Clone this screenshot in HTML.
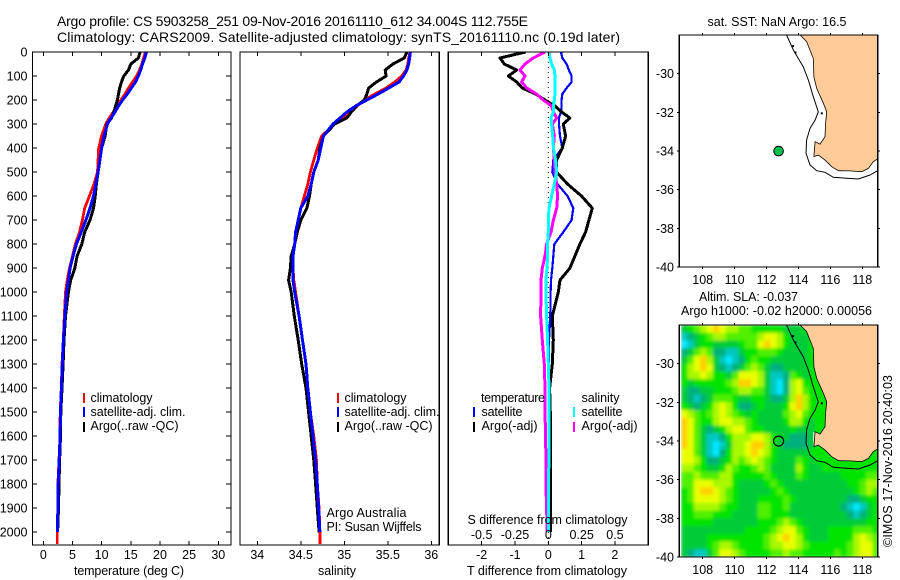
<!DOCTYPE html>
<html>
<head>
<meta charset="utf-8">
<title>Argo profile 5903258</title>
<style>
html,body{margin:0;padding:0;background:#fff;}
svg{display:block;font-family:"Liberation Sans",sans-serif;fill:#000;}
text{font-size:12.5px;fill:#000;}
.t{font-size:14px;}
</style>
</head>
<body>
<svg id="chart" width="900" height="580" viewBox="0 0 900 580" xmlns="http://www.w3.org/2000/svg">
  <defs>
    <clipPath id="clip-t"><rect x="33" y="52" width="198" height="493"/></clipPath>
    <clipPath id="clip-s"><rect x="240" y="52" width="199" height="493"/></clipPath>
    <clipPath id="clip-d"><rect x="448" y="52" width="200" height="493"/></clipPath>
    <clipPath id="clip-m1"><rect x="679" y="35" width="199" height="232"/></clipPath>
    <clipPath id="clip-m2"><rect x="679" y="325" width="199" height="232"/></clipPath>
    <filter id="soft" x="-5%" y="-5%" width="110%" height="110%"><feGaussianBlur stdDeviation="1.6"/></filter>
  </defs>

  <text class="t" x="57" y="26" textLength="471">Argo profile: CS 5903258_251 09-Nov-2016 20161110_612 34.004S 112.755E</text>
  <text class="t" x="57" y="42" textLength="563">Climatology: CARS2009. Satellite-adjusted climatology: synTS_20161110.nc (0.19d later)</text>

  <g id="g-heat" clip-path="url(#clip-m2)"></g>
  <g id="g-map1"></g>
  <g id="g-map2"></g>
  <g id="g-temp"></g>
  <g id="g-sal"></g>
  <g id="g-diff"></g>

  <text x="129" y="575" text-anchor="middle" textLength="110">temperature (deg C)</text>
  <text x="337" y="575" text-anchor="middle" textLength="38">salinity</text>
  <text x="547" y="575" text-anchor="middle" textLength="160">T difference from climatology</text>
  <text x="547.5" y="524" text-anchor="middle" textLength="160">S difference from climatology</text>

  <g>
    <rect x="83" y="393" width="2" height="10" fill="#ff0000"/>
    <rect x="83" y="407" width="2" height="10" fill="#0000ff"/>
    <rect x="83" y="422" width="2" height="10" fill="#000"/>
    <text x="90.5" y="402" textLength="62">climatology</text>
    <text x="90.5" y="416" textLength="95">satellite-adj. clim.</text>
    <text x="90.5" y="430" textLength="88">Argo(..raw -QC)</text>
  </g>
  <g>
    <rect x="337" y="393" width="2" height="10" fill="#ff0000"/>
    <rect x="337" y="407" width="2" height="10" fill="#0000ff"/>
    <rect x="337" y="422" width="2" height="10" fill="#000"/>
    <text x="344.5" y="402" textLength="62">climatology</text>
    <text x="344.5" y="416" textLength="95">satellite-adj. clim.</text>
    <text x="344.5" y="430" textLength="88">Argo(..raw -QC)</text>
    <text x="326.5" y="517" textLength="80">Argo Australia</text>
    <text x="326.5" y="531" textLength="95">PI: Susan Wijffels</text>
  </g>
  <g>
    <text x="481" y="402" textLength="64">temperature</text>
    <rect x="473" y="407" width="2" height="10" fill="#0000ff"/>
    <rect x="473" y="422" width="2" height="10" fill="#000"/>
    <text x="481.5" y="416" textLength="41">satellite</text>
    <text x="481.5" y="430" textLength="56">Argo(-adj)</text>
    <text x="581.5" y="402" textLength="38">salinity</text>
    <rect x="573" y="407" width="2" height="10" fill="#00ffff"/>
    <rect x="573" y="422" width="2" height="10" fill="#ff00ff"/>
    <text x="581.5" y="416" textLength="41">satellite</text>
    <text x="581.5" y="430" textLength="56">Argo(-adj)</text>
  </g>

  <text x="777" y="26" text-anchor="middle" textLength="139">sat. SST: NaN Argo: 16.5</text>
  <text x="748.5" y="301" text-anchor="middle" textLength="99">Altim. SLA: -0.037</text>
  <text x="776.5" y="315" text-anchor="middle" textLength="191">Argo h1000: -0.02 h2000: 0.00056</text>
  <text transform="translate(892,547) rotate(-90)" textLength="172">©IMOS 17-Nov-2016 20:40:03</text>
</svg>

<script>
// depth levels (m) shared by all profile series
const depthLevels = [0,25,50,75,100,125,150,175,200,225,250,275,300,350,400,450,500,550,600,650,700,750,800,850,900,950,1000,1100,1200,1300,1400,1500,1600,1700,1800,1900,2000,2050];

// temperature (deg C)
const tempClim = [17.5,17.2,16.9,16.5,16.0,15.3,14.6,14.0,13.3,12.6,12.0,11.3,10.7,10.0,9.5,9.4,9.3,8.7,7.9,7.1,6.7,6.2,5.5,5.0,4.5,4.1,3.8,3.6,3.43,3.2,3.09,2.9,2.86,2.7,2.5,2.5,2.4,2.4];
const tempSat = [17.7,17.4,17.0,16.7,16.3,15.8,15.1,14.4,13.6,12.9,12.3,11.6,11.0,10.4,10.0,9.7,9.4,9.0,8.6,8.0,7.3,6.5,5.7,5.1,4.6,4.3,4.0,3.7,3.45,3.25,3.1,2.95,2.88,2.72,2.55,2.5,2.4,null];
const tempArgo = [16.6,16.3,15.0,14.6,13.8,13.4,13.1,12.9,12.7,12.4,12.1,11.7,10.9,10.6,10.0,9.7,9.4,9.1,8.9,8.6,8.0,7.1,6.6,5.8,5.4,4.7,4.3,3.8,3.55,3.4,3.2,3.0,2.95,2.8,2.7,2.6,2.45,null];

// salinity
const salClim = [35.755,35.74,35.73,35.71,35.66,35.58,35.48,35.35,35.23,35.15,35.08,34.97,34.89,34.74,34.69,34.65,34.61,34.58,34.54,34.50,34.47,34.45,34.43,34.41,34.41,34.42,34.44,34.48,34.52,34.56,34.58,34.61,34.65,34.68,34.69,34.71,34.72,34.72];
const salSat = [35.76,35.75,35.74,35.72,35.68,35.63,35.51,35.39,35.26,35.13,35.03,34.95,34.87,34.76,34.73,34.70,34.65,34.62,34.58,34.50,34.47,34.44,34.43,34.41,34.41,34.41,34.43,34.48,34.52,34.56,34.58,34.61,34.64,34.67,34.69,34.705,34.72,null];
const salArgo = [35.72,35.69,35.56,35.47,35.48,35.37,35.28,35.26,35.23,35.14,35.08,35.03,34.89,34.76,34.72,34.70,34.65,34.62,34.60,34.57,34.50,34.46,34.43,34.39,34.38,34.36,34.39,34.425,34.47,34.51,34.56,34.59,34.62,34.65,34.67,34.69,34.71,null];

// differences from climatology
const diffTSat = [.38,.42,.55,.62,.70,.70,.55,.42,.40,.40,.38,.32,.32,.35,.42,.15,.12,.28,.58,.75,.70,.45,.18,.15,.12,.08,.07,.06,.02,.02,.04,.04,.04,.04,.03,.03,.02,null];
const diffTArgo = [-.68,-1.45,-1.32,-.95,-1.2,-.95,-.78,-.38,-.10,.20,.40,.65,.45,.52,.42,.25,.25,.58,1.0,1.32,1.22,1.12,.95,.80,.65,.35,.30,.12,.15,.12,.04,.06,.06,.06,.06,.07,.07,null];
const diffSArgo = [-.025,-.113,-.175,-.213,-.175,-.2,-.163,-.088,-.038,.025,.038,.063,.03,.045,.038,.045,.05,.063,.07,.063,.038,.02,-.013,-.025,-.045,-.055,-.055,-.058,-.045,-.03,-.025,-.025,-.02,-.018,-.018,-.013,-.008,null];
const diffSSat = [.005,.013,.025,.045,.05,.05,.05,.05,.045,.038,.038,.02,.025,.033,.038,.055,.063,.045,.025,.005,0,0,-.005,-.005,-.01,-.018,-.018,-.013,-.005,0,.005,.005,.005,.005,0,0,0,null];

// tick labels
const depthTicks = [0,100,200,300,400,500,600,700,800,900,1000,1100,1200,1300,1400,1500,1600,1700,1800,1900,2000];
const tempTicks = [0,5,10,15,20,25,30];
const salTicks = [34,34.5,35,35.5,36];
const dTTicks = [-2,-1,0,1,2];
const dSTicks = [-0.5,-0.25,0,0.25,0.5];
const lonTicks = [108,110,112,114,116,118];
const latTicks = [-30,-32,-34,-36,-38,-40];

// float position
const floatLon = [112.755];
const floatLat = [-34.004];

// coastline (degrees)
const coastLon = [114.10,114.51,114.93,114.97,115.14,115.56,115.77,115.70,115.66,115.35,115.04,114.97,115.24,115.66,116.08,116.50,117.23,117.96,118.38,118.69,118.96];
const coastLat = [-28.0,-28.34,-29.21,-30.16,-30.76,-31.53,-31.97,-32.57,-33.26,-33.64,-33.52,-34.29,-34.21,-34.47,-34.81,-35.02,-35.03,-35.07,-34.90,-34.55,-34.41];
// shelf-edge isobath (degrees)
const isoLon = [113.26,113.68,114.30,114.62,114.93,115.24,115.04,114.72,114.51,114.47,114.72,115.14,115.66,116.18,117.02,117.75,118.48,118.96];
const isoLat = [-28.0,-28.78,-29.64,-30.33,-31.19,-31.97,-32.40,-32.83,-33.43,-34.12,-34.72,-35.02,-35.10,-35.36,-35.41,-35.45,-35.24,-35.02];
// small offshore islands (degrees)
const islandLon = [113.6,113.75,115.4];
const islandLat = [-28.52,-28.85,-32.0];

// altimetry grid: colour class per 0.4 degree cell, north to south, west to east
const heatRows = [
"3456787665 5444443334 4444444444 4",
"1234566555 5567764333 4444444444 4",
"0134433334 5578764333 4444444444 4",
"2356522113 4455543333 4444444444 4",
"3578631012 4544333333 4444444444 4",
"4678732123 5653223333 4444444444 4",
"4667644357 7763112543 4444444444 4",
"4344444568 8763102674 4444444444 4",
"3223344456 6553102675 4444444444 4",
"3212355543 3443223686 4444444444 4",
"4323467642 2343334786 4444444444 4",
"7654567654 3433335675 4444444444 4",
"8754467766 5433334664 3444444444 4",
"8753234677 5443333433 3444444444 4",
"8753112466 6776433222 3444444444 4",
"8753101366 7886432222 3444444444 4",
"7753102466 7876433333 4444444444 4",
"7764223465 6765433354 3444444444 4",
"6654334654 4565333364 3344444444 4",
"5565556644 4445433354 3333344445 5",
"5577766643 3334543333 3333334456 6",
"4578876543 3333454333 3333333456 5",
"4577776543 3344445433 3333332234 4",
"4466665443 3355445333 3333321013 4",
"4455544433 3355444333 3333332123 4",
"4444433333 3344456543 3333333334 4",
"3333333333 4444567754 3334444555 4",
"3333444444 4445678764 3334444676 5",
"3333456654 4445667765 4444445677 5",
"3211357765 4444556554 4444545677 5"
];
// colour classes from low (cyan) to high (orange)
const heatColors = ["#00e8ff","#00c8c0","#00b07c","#00cc38","#00e400","#50f000","#a8f800","#e8ff00","#ffd000"];

const NS = "http://www.w3.org/2000/svg";
function mk(tag, attrs, parent) {
  const el = document.createElementNS(NS, tag);
  for (const k in attrs) el.setAttribute(k, attrs[k]);
  parent.appendChild(el);
  return el;
}

// axis functions
const yD = d => 52 + d * 0.2401;
const xT = v => 43.3 + v * 5.833;
const xS = v => 257.3 + (v - 34) * 87;
const xDT = v => 548.3 + v * 33.3;
const xDS = v => 548.3 + v * 133.3;
const xLon = v => 702.7 + (v - 108) * 15.96;
const yLat1 = v => 73.7 - (v + 30) * 19.33;
const yLat2 = v => 363.7 - (v + 30) * 19.33;

function frame(parent, x, y, w, h) {
  const r = mk('rect', {x:x, y:y, width:w, height:h, fill:'none', stroke:'#000', 'stroke-width':1.2, 'shape-rendering':'crispEdges'}, parent);
  
  
}
function tick(parent, x1, y1, x2, y2) {
  const l = mk('line', {x1:x1, y1:y1, x2:x2, y2:y2, stroke:'#000', 'stroke-width':1, 'shape-rendering':'crispEdges'}, parent);
  
  
}
function label(parent, x, y, txt, anchor) {
  const t = mk('text', {x:x, y:y, 'text-anchor':anchor}, parent);
  t.textContent = txt;
  
  
}
function profile(parent, xf, values, color, width, clip, name) {
  const pts = [];
  values.forEach((v, i) => { if (v !== null) pts.push(xf(v).toFixed(1) + ',' + yD(depthLevels[i]).toFixed(1)); });
  const p = mk('polyline', {points:pts.join(' '), fill:'none', stroke:color, 'stroke-width':width, 'stroke-linejoin':'round', 'clip-path':'url(#' + clip + ')', 'shape-rendering':'crispEdges'}, parent);
  
  
}

// temperature panel
const gT = document.getElementById('g-temp');
profile(gT, xT, tempClim, '#ff0000', 2.8, 'clip-t', 'temperature-climatology-line');
profile(gT, xT, tempArgo, '#000000', 3, 'clip-t', 'temperature-argo-line');
profile(gT, xT, tempSat, '#0000ff', 3, 'clip-t', 'temperature-satellite-line');
frame(gT, 32.5, 52, 198.5, 493);
depthTicks.forEach(d => {
  tick(gT, 32.5, yD(d), 37, yD(d));
  tick(gT, 231, yD(d), 226, yD(d));
  label(gT, 27.5, yD(d) + 4.5, String(d), 'end');
});
tempTicks.forEach(v => {
  tick(gT, xT(v), 52, xT(v), 56);
  tick(gT, xT(v), 545, xT(v), 541);
  label(gT, xT(v), 559, String(v), 'middle');
});

// salinity panel
const gS = document.getElementById('g-sal');
profile(gS, xS, salClim, '#ff0000', 2.8, 'clip-s', 'salinity-climatology-line');
profile(gS, xS, salArgo, '#000000', 3, 'clip-s', 'salinity-argo-line');
profile(gS, xS, salSat, '#0000ff', 3, 'clip-s', 'salinity-satellite-line');
frame(gS, 240, 52, 199.3, 493);
salTicks.forEach(v => {
  tick(gS, xS(v), 52, xS(v), 56);
  tick(gS, xS(v), 545, xS(v), 541);
  label(gS, xS(v), 559, String(v), 'middle');
});

// difference panel
const gD = document.getElementById('g-diff');
const zero = mk('line', {x1:xDT(0), y1:52, x2:xDT(0), y2:545, stroke:'#000', 'stroke-width':1, 'stroke-dasharray':'1 4'}, gD);


profile(gD, xDT, diffTSat, '#0000ff', 2.2, 'clip-d', 't-difference-satellite-line');
profile(gD, xDT, diffTArgo, '#000000', 3, 'clip-d', 't-difference-argo-line');
profile(gD, xDS, diffSArgo, '#ff00ff', 3, 'clip-d', 's-difference-argo-line');
profile(gD, xDS, diffSSat, '#00ffff', 3, 'clip-d', 's-difference-satellite-line');
frame(gD, 448.3, 52, 200, 493);
dTTicks.forEach(v => {
  tick(gD, xDT(v), 52, xDT(v), 56);
  tick(gD, xDT(v), 545, xDT(v), 541);
  label(gD, xDT(v), 559, String(v), 'middle');
});
dSTicks.forEach(v => {
  label(gD, xDS(v), 539, String(v), 'middle');
});

// heatmap cells
const gH = document.getElementById('g-heat');
const gHinner = mk('g', {filter:'url(#soft)'}, gH);
heatRows.forEach((row, j) => {
  const cells = row.replace(/ /g, '');
  for (let i = 0; i < cells.length; i++) {
    const lon = 106.64 + i * 0.4;
    const lat = -28 - j * 0.4;
    const c = mk('rect', {x:xLon(lon).toFixed(1), y:yLat2(lat).toFixed(1), width:(0.4 * 15.96 + 0.6).toFixed(1), height:(0.4 * 19.33 + 0.6).toFixed(1), fill:heatColors[+cells[i]]}, gHinner);
    
    
  }
});
// white strip at the western edge of the grid
const strip = mk('rect', {x:679, y:325, width:2, height:232, fill:'#fff'}, gH);


// white no-data gap in the bay beside the cape
const gap = mk('rect', {x:xLon(114.93), y:yLat2(-33.55), width:3, height:14, fill:'#fff'}, gH);



function drawMap(parent, yLat, clip, y0) {
  const landPts = coastLon.map((v, i) => xLon(v).toFixed(1) + ',' + yLat(coastLat[i]).toFixed(1));
  landPts.push(xLon(118.96).toFixed(1) + ',' + yLat(-28).toFixed(1));
  const land = mk('polygon', {points:landPts.join(' '), fill:'#ffcc99', stroke:'#000', 'stroke-width':0.8, 'clip-path':'url(#' + clip + ')'}, parent);
  
  
  const isoPts = isoLon.map((v, i) => xLon(v).toFixed(1) + ',' + yLat(isoLat[i]).toFixed(1));
  const iso = mk('polyline', {points:isoPts.join(' '), fill:'none', stroke:'#000', 'stroke-width':1, 'clip-path':'url(#' + clip + ')'}, parent);
  
  
  islandLon.forEach((v, i) => {
    const d = mk('rect', {x:xLon(v), y:yLat(islandLat[i]), width:2, height:2, fill:'#000'}, parent);
    
    
  });
  frame(parent, 679.3, y0, 198.4, 232);
  lonTicks.forEach(v => {
    tick(parent, xLon(v), y0, xLon(v), y0 - 2);
    tick(parent, xLon(v), y0 + 232, xLon(v), y0 + 234);
    label(parent, xLon(v), y0 + 249, String(v), 'middle');
  });
  latTicks.forEach(v => {
    tick(parent, 679.3, yLat(v), 677, yLat(v));
    tick(parent, 877.7, yLat(v), 880, yLat(v));
    label(parent, 674, yLat(v) + 4.5, String(v), 'end');
  });
}

const gM1 = document.getElementById('g-map1');
drawMap(gM1, yLat1, 'clip-m1', 35);
const m1 = mk('circle', {cx:xLon(floatLon[0]), cy:yLat1(floatLat[0]), r:4.8, fill:'#00c050', stroke:'#000', 'stroke-width':1}, gM1);



const gM2 = document.getElementById('g-map2');
drawMap(gM2, yLat2, 'clip-m2', 325);
const m2 = mk('circle', {cx:xLon(floatLon[0]), cy:yLat2(floatLat[0]), r:5, fill:'none', stroke:'#000', 'stroke-width':1.2}, gM2);


</script>
</body>
</html>
